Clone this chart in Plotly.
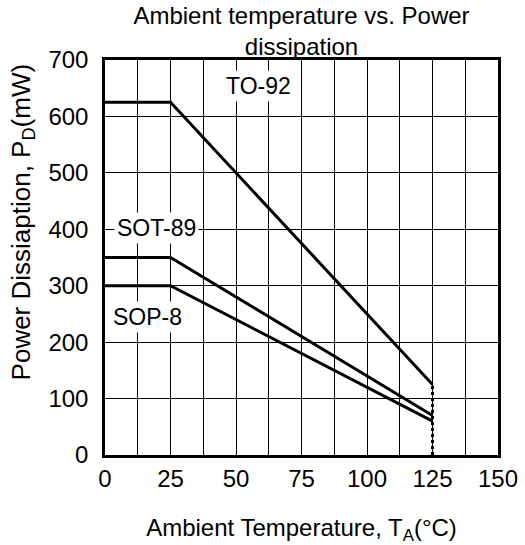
import plotly.graph_objects as go

temps = [0, 25, 125]
to92 = [625, 625, 125]
sot89 = [350, 350, 70]
sop8 = [300, 300, 60]
limit_x = [125, 125]
limit_y = [0, 125]
labels = ["TO-92", "SOT-89", "SOP-8"]
label_x = [58.6, 19.5, 16.4]
label_y = [654, 403, 244]

fig = go.Figure()
for ys in (to92, sot89, sop8):
    fig.add_trace(go.Scatter(x=temps, y=ys, mode="lines",
                             line=dict(color="black", width=3), showlegend=False))
fig.add_trace(go.Scatter(x=limit_x, y=limit_y, mode="lines",
                         line=dict(color="black", width=3, dash="dot"), showlegend=False))

for t, xx, yy in zip(labels, label_x, label_y):
    fig.add_annotation(x=xx, y=yy, text=t, showarrow=False, xanchor="center",
                       bgcolor="white", font=dict(size=23, color="black"), borderpad=2)

# y-axis title (placed as rotated text, as in the reference it sits above centre)
fig.add_annotation(xref="paper", yref="paper", x=-0.211, y=0.589, xanchor="center",
                   yanchor="middle", textangle=-90, showarrow=False,
                   text="Power Dissiaption, P<sub>D</sub>(mW)", font=dict(size=26, color="black"))

font_family = "Liberation Sans, Arial, sans-serif"
fig.update_layout(
    width=525, height=545,
    margin=dict(l=105, r=27, t=60, b=90),
    paper_bgcolor="white", plot_bgcolor="white",
    font=dict(family=font_family, size=24, color="black"),
    title=dict(text="Ambient temperature vs. Power<br>dissipation", x=0.5, xref="paper",
               xanchor="center", y=0.956, yanchor="top", font=dict(size=24)),
)
fig.update_xaxes(range=[0, 150], dtick=25, tick0=0, showgrid=True, gridcolor="black", gridwidth=1,
                 minor=dict(dtick=12.5, showgrid=True, gridcolor="black", gridwidth=1),
                 showline=True, linecolor="black", linewidth=2.5, mirror=True,
                 ticks="", zeroline=False, tickfont=dict(size=24), automargin=False,
                 title=dict(text="Ambient Temperature, T<sub>A</sub>(°C)", standoff=32,
                            font=dict(size=24)))
fig.update_yaxes(range=[0, 700], dtick=100, tick0=0, showgrid=True, gridcolor="black", gridwidth=1,
                 showline=True, linecolor="black", linewidth=2.5, mirror=True,
                 ticks="", zeroline=False, tickfont=dict(size=24), ticklabelstandoff=9,
                 automargin=False)
fig.write_html("out.html", config={"displayModeBar": False},
               post_script="document.body.style.margin='0';")
